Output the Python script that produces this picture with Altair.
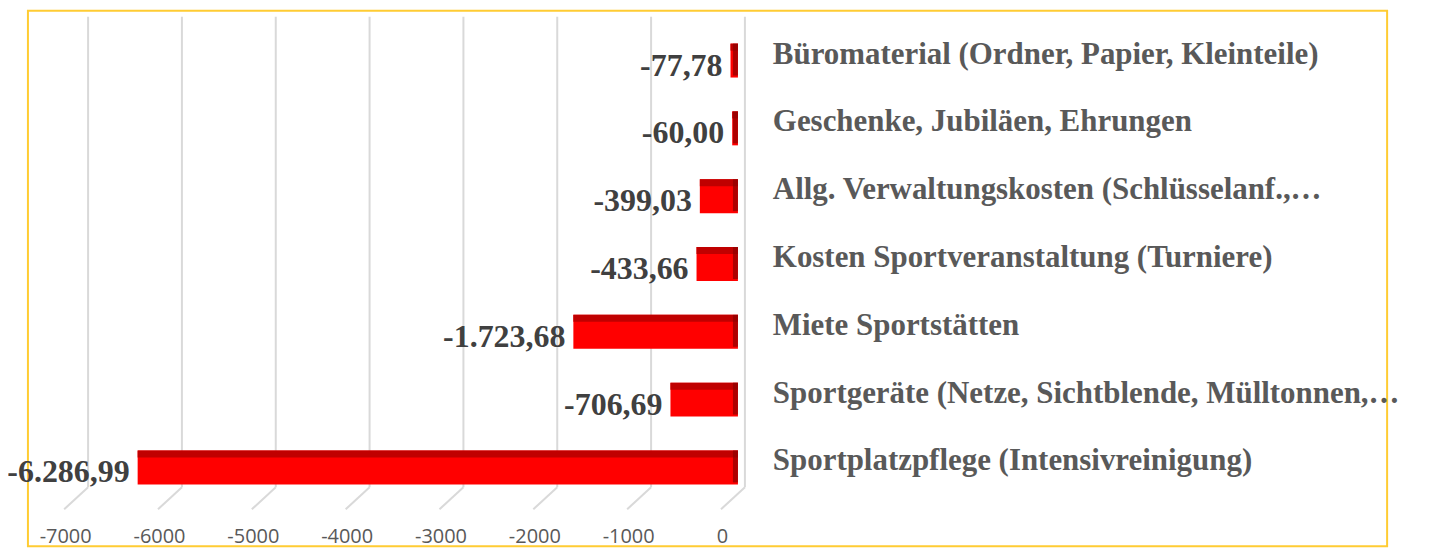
import altair as alt
import pandas as pd

# ---- data ----
categories = [
    "Büromaterial (Ordner, Papier, Kleinteile)",
    "Geschenke, Jubiläen, Ehrungen",
    "Allg. Verwaltungskosten (Schlüsselanf.,…",
    "Kosten Sportveranstaltung (Turniere)",
    "Miete Sportstätten",
    "Sportgeräte (Netze, Sichtblende, Mülltonnen,…",
    "Sportplatzpflege (Intensivreinigung)",
]
values = [-77.78, -60.00, -399.03, -433.66, -1723.68, -706.69, -6286.99]
x_ticks = [-7000, -6000, -5000, -4000, -3000, -2000, -1000, 0]


def de_format(v):
    s = f"{v:,.2f}"
    return s.replace(",", "X").replace(".", ",").replace("X", ".")


df = pd.DataFrame({
    "cat": categories,
    "value": values,
    "label": [de_format(v) for v in values],
    "zero": [0] * len(values),
})
grid_df = pd.DataFrame({"tick": x_ticks})

# ---- layout constants ----
W, H = 1363, 537
bar_scale = alt.Scale(domain=[-7436, 6799], nice=False, zero=False)
grid_scale = alt.Scale(domain=[-7641, 6844], nice=False, zero=False)
y_band = alt.Scale(domain=categories, paddingInner=0.5, paddingOuter=0.6985,
                   align=0.347, round=False)
gy = alt.Scale(domain=[0, 1], nice=False, zero=False)

GRID_TOP, GRID_KNEE, GRID_FOOT = 0.989, 0.110, 0.069
GRID_COLOR = "#D9D9D9"
SERIF = "Liberation Serif"

# ---- grid (back wall) + axis labels ----
grid_v = alt.Chart(grid_df).mark_rule(color=GRID_COLOR, strokeWidth=2).encode(
    x=alt.X("tick:Q", scale=grid_scale, title=None,
            axis=alt.Axis(values=x_ticks, grid=False, ticks=False, domain=False,
                          labelExpr="'' + datum.value", labelFont="Open Sans",
                          labelFontSize=20, labelColor="#595959",
                          labelOffset=-23, offset=-20, labelPadding=0,
                          labelBaseline="top")),
    y=alt.YDatum(GRID_TOP, scale=gy, axis=None),
    y2=alt.Y2Datum(GRID_KNEE),
)
grid_d = alt.Chart(grid_df).mark_rule(color=GRID_COLOR, strokeWidth=2, x2Offset=-24).encode(
    x=alt.X("tick:Q", scale=grid_scale),
    x2=alt.X2("tick:Q"),
    y=alt.YDatum(GRID_KNEE, scale=gy),
    y2=alt.Y2Datum(GRID_FOOT),
)
grid_layer = alt.layer(grid_v, grid_d)

# ---- bars ----
base = alt.Chart(df)
y_enc = alt.Y("cat:N", scale=y_band, sort=categories, axis=None, title=None)

bars = base.mark_bar(color="#FF0000").encode(
    x=alt.X("value:Q", scale=bar_scale, axis=None, title=None),
    x2=alt.X2("zero:Q"),
    y=y_enc,
)
tops = base.mark_bar(color="#C00000", height=7, yOffset=-13.5).encode(
    x=alt.X("value:Q", scale=bar_scale, axis=None),
    x2=alt.X2("zero:Q"),
    y=y_enc,
)
sides = base.mark_tick(color="#8B0000", thickness=5, size=32, xOffset=-2.5, yOffset=-1).encode(
    x=alt.X("zero:Q", scale=bar_scale, axis=None),
    y=y_enc,
)
val_text = base.mark_text(align="right", baseline="middle", dx=-8, dy=5,
                          font=SERIF, fontWeight="bold", fontSize=32,
                          color="#404040").encode(
    x=alt.X("value:Q", scale=bar_scale, axis=None),
    y=y_enc,
    text="label:N",
)
cat_text = base.mark_text(align="left", baseline="middle", dx=35, dy=-6,
                          font=SERIF, fontWeight="bold", fontSize=31,
                          color="#595959").encode(
    x=alt.X("zero:Q", scale=bar_scale, axis=None),
    y=y_enc,
    text="cat:N",
)
bars_layer = alt.layer(bars, tops, sides, val_text, cat_text)

chart = alt.layer(grid_layer, bars_layer).resolve_scale(
    x="independent", y="independent"
).properties(
    width=W, height=H,
    padding={"left": 20, "top": 2, "right": 40, "bottom": 8},
    autosize=alt.AutoSizeParams(type="none"),
    background="white",
).configure_view(stroke="#FFCC33", strokeWidth=2)

chart.save("out.html", embed_options={"renderer": "svg", "actions": False})
